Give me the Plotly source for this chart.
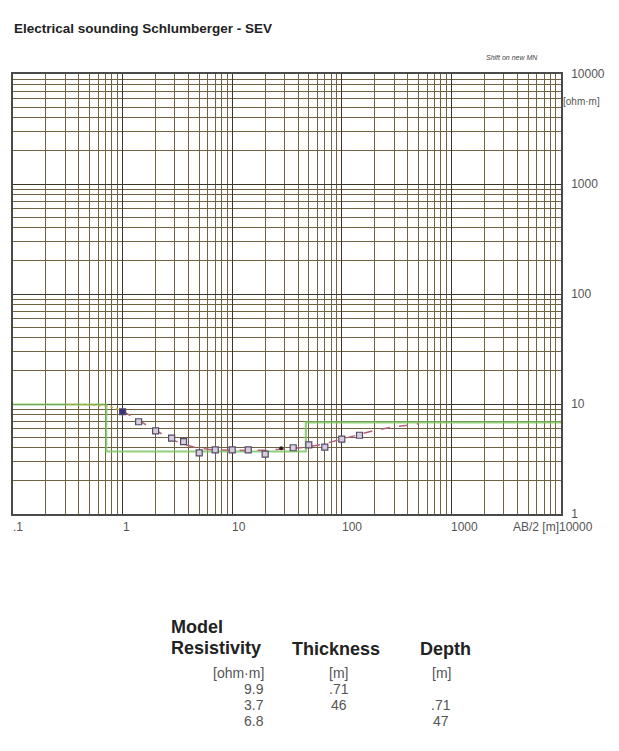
import math
import plotly.graph_objects as go

# Measured apparent resistivity (Schlumberger array)
ab2 = [1.0, 1.4, 2.0, 2.8, 3.6, 5.0, 7.0, 10.0, 14.0, 20.0, 36.0, 50.0, 70.0, 100.0, 145.0]
rho_a = [8.5, 6.9, 5.7, 4.9, 4.55, 3.6, 3.82, 3.82, 3.82, 3.5, 4.0, 4.25, 4.05, 4.8, 5.2]

# Extra reading drawn as a small dot
dot_ab2 = [28.0]
dot_rho = [3.95]

# Calculated response of the layered model
curve_ab2 = [0.32, 0.5, 0.7, 0.85, 1.0, 1.4, 2.0, 2.8, 3.6, 5.0, 7.0, 10.0, 14.0, 20.0,
             28.0, 36.0, 50.0, 70.0, 100.0, 145.0, 200.0, 300.0, 500.0]
curve_rho = [9.9, 9.85, 9.6, 9.2, 8.6, 7.1, 5.7, 4.75, 4.3, 3.95, 3.82, 3.78, 3.78, 3.8,
             3.86, 3.94, 4.08, 4.35, 4.8, 5.3, 5.75, 6.2, 6.6]

# Layered model
layer_res = [9.9, 3.7, 6.8]
layer_thick = [0.71, 46]
layer_depth = [0.71, 47]
x_min, x_max = 0.1, 10000

# Axis labels
x_tick_vals = [0.1, 1, 10, 100, 1000, 10000]
x_tick_text = [".1", "1", "10", "100", "1000", "10000"]
y_tick_vals = [1, 10, 100, 1000, 10000]
y_tick_text = ["1", "10", "100", "1000", "10000"]

FONT = "Liberation Sans, Arial, sans-serif"
L, R, T, B = 11, 58, 74, 237
W, H = 619, 751
PW, PH = W - L - R, H - T - B


def px(xp):
    return (xp - L) / PW


def py(yp):
    return (H - B - yp) / PH


fig = go.Figure()

# Model as a step curve: resistivity vs depth
step_x = [x_min, layer_depth[0], layer_depth[0], layer_depth[1], layer_depth[1], x_max]
step_y = [layer_res[0], layer_res[0], layer_res[1], layer_res[1], layer_res[2], layer_res[2]]
fig.add_trace(go.Scatter(x=step_x, y=step_y, mode="lines",
                         line=dict(color="rgba(120,196,90,0.8)", width=2.2),
                         hoverinfo="skip", showlegend=False))

# Model response: near-surface part, then the rest of the curve
split = curve_ab2.index(1.0)
fig.add_trace(go.Scatter(x=curve_ab2[:split + 1], y=curve_rho[:split + 1], mode="lines",
                         line=dict(color="#c2b048", width=1.5, dash="dot"),
                         hoverinfo="skip", showlegend=False))
fig.add_trace(go.Scatter(x=curve_ab2[split:], y=curve_rho[split:], mode="lines",
                         line=dict(color="#b8607a", width=1.5, dash="dash"),
                         hoverinfo="skip", showlegend=False))

# Field data
fills = ["#34347e"] + ["#d4cede"] * (len(ab2) - 1)
fig.add_trace(go.Scatter(x=ab2, y=rho_a, mode="markers",
                         marker=dict(symbol="square", size=6, color=fills,
                                     line=dict(color="#564a66", width=1.2)),
                         showlegend=False))
fig.add_trace(go.Scatter(x=dot_ab2, y=dot_rho, mode="markers",
                         marker=dict(symbol="circle", size=4, color="#202020"),
                         showlegend=False))

axis_common = dict(
    type="log", showgrid=True, gridcolor="#3a372f", gridwidth=1.3,
    minor=dict(dtick="D1", showgrid=True, gridcolor="#706240", gridwidth=1.15),
    showline=True, linecolor="#4a4a4a", linewidth=1.5, mirror=True,
    zeroline=False, ticks="",
)

fig.update_xaxes(range=[math.log10(x_min), math.log10(x_max)], showticklabels=False,
                 dtick=1, **axis_common)
fig.update_yaxes(range=[0, 4], side="right", tickvals=y_tick_vals, ticktext=y_tick_text,
                 tickfont=dict(family=FONT, size=12, color="#555"),
                 ticklabelstandoff=6, **axis_common)

ann = []
# x-axis labels, left-aligned at each decade
for v, t in zip(x_tick_vals, x_tick_text):
    ann.append(dict(x=math.log10(v), y=py(527), xref="x", yref="paper", text=t,
                    showarrow=False, xanchor="left", yanchor="middle",
                    xshift=-4 if v == x_max else -2,
                    font=dict(family=FONT, size=12, color="#555")))
ann.append(dict(x=1, y=py(527), xref="paper", yref="paper", text="AB/2 [m]",
                showarrow=False, xanchor="right", yanchor="middle", xshift=0,
                font=dict(family=FONT, size=12, color="#555")))
ann.append(dict(x=1, y=py(101), xref="paper", yref="paper", text="[ohm·m]",
                showarrow=False, xanchor="left", yanchor="middle", xshift=0,
                font=dict(family=FONT, size=10, color="#555")))
ann.append(dict(x=px(540), y=py(57), xref="paper", yref="paper",
                text="<i>Shift on new MN</i>", showarrow=False,
                xanchor="right", yanchor="middle",
                font=dict(family=FONT, size=7, color="#444")))
ann.append(dict(x=px(10), y=py(28), xref="paper", yref="paper",
                text="<b>Electrical sounding Schlumberger - SEV</b>", showarrow=False,
                xanchor="left", yanchor="middle",
                font=dict(family=FONT, size=13.5, color="#222")))

# Model table
head = dict(family=FONT, size=18, color="#222")
body = dict(family=FONT, size=14, color="#555")


def txt(x, y, s, anchor, font):
    ann.append(dict(x=px(x), y=py(y), xref="paper", yref="paper", text=s,
                    showarrow=False, xanchor=anchor, yanchor="middle", font=font))


txt(168, 627, "<b>Model</b>", "left", head)
txt(168, 648, "<b>Resistivity</b>", "left", head)
txt(289, 649, "<b>Thickness</b>", "left", head)
txt(417, 649, "<b>Depth</b>", "left", head)

txt(265, 673, "[ohm·m]", "right", body)
txt(338, 673, "[m]", "center", body)
txt(441, 673, "[m]", "center", body)

row_y = [689, 705, 721]
for i, r in enumerate(layer_res):
    txt(265, row_y[i], f"{r:.1f}", "right", body)
for i, t in enumerate(layer_thick):
    txt(338, row_y[i], f"{t:g}".lstrip("0"), "center", body)
for i, d in enumerate(layer_depth):
    txt(441, row_y[i + 1], f"{d:g}".lstrip("0"), "center", body)

fig.update_layout(width=W, height=H, margin=dict(l=L, r=R, t=T, b=B),
                  paper_bgcolor="white", plot_bgcolor="white",
                  annotations=ann, showlegend=False)

fig.write_html("out.html")
